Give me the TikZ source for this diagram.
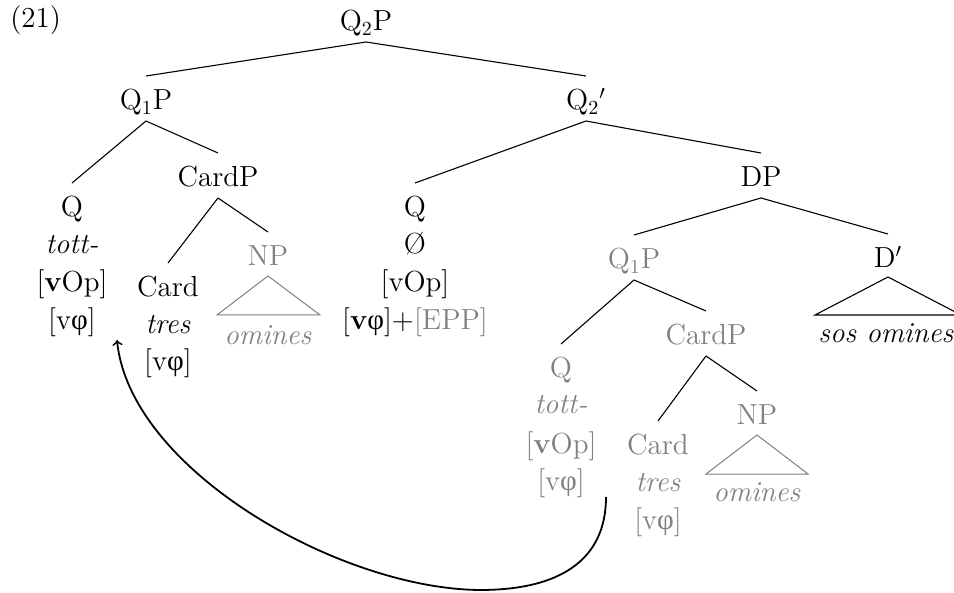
\documentclass[tikz,border=0pt]{standalone}
\usepackage{fontspec}
\newfontfamily\grk{Liberation Serif}
\newcommand{\vph}{{\grk φ}}
\usetikzlibrary{calc}
\definecolor{tgray}{gray}{0.5}
\begin{document}
\begin{tikzpicture}[x=0.5pt,y=-0.5pt,
  font=\fontsize{14.5}{17}\selectfont,
  lbl/.style={inner sep=0pt, anchor=base},
  glbl/.style={lbl, text=tgray},
  edge/.style={line width=0.55pt, black},
  gtri/.style={line width=0.5pt, draw=tgray},
  btri/.style={line width=0.55pt, draw=black},
  move/.style={line width=0.9pt, ->}]
\useasboundingbox (0,0) rectangle (954,593);

% example number
\node[lbl, anchor=base west] (ex) at (10,28) {(21)};

% top
\node[lbl] (Q2P) at (366,31) {Q$_2$P};
\node[lbl] (Q1P) at (146,110) {Q$_1$P};
\node[lbl] (Q2b) at (586,110) {Q$_2$$'$};

% left Q column
\node[lbl] (Qa) at (72,217) {Q};
\node[lbl] (Qa1) at (72,254) {\textit{tott-}};
\node[lbl] (Qa2) at (72,292) {[\textbf{v}Op]};
\node[lbl] (Qa3) at (72,330) {[v\vph]};

% CardP
\node[lbl] (CardPa) at (218,187) {CardP};
\node[lbl] (Carda) at (168,297) {Card};
\node[lbl] (Carda1) at (168,334) {\textit{tres}};
\node[lbl] (Carda2) at (168,371) {[v\vph]};
\node[glbl] (NPa) at (268,266) {NP};
\node[glbl] (omA) at (268,345) {\textit{omines}};

% middle Q column
\node[lbl] (Qb) at (415,217) {Q};
\node[lbl] (Qb1) at (415,254) {Ø};
\node[lbl] (Qb2) at (415,292) {[vOp]};
\node[lbl] (Qb3) at (415,330) {[\textbf{v}\vph]+\textcolor{tgray}{[EPP]}};

% DP
\node[lbl] (DP) at (761,187) {DP};
\node[glbl] (Q1Pg) at (634,269) {Q$_1$P};
\node[lbl] (Dbar) at (888,268) {D$'$};
\node[lbl] (sos) at (886,343) {\textit{sos omines}};

% gray Q column
\node[glbl] (Qg) at (561,378) {Q};
\node[glbl] (Qg1) at (561,414) {\textit{tott-}};
\node[glbl] (Qg2) at (561,453) {[\textbf{v}Op]};
\node[glbl] (Qg3) at (561,490) {[v\vph]};

% gray CardP
\node[glbl] (CardPg) at (706,345) {CardP};
\node[glbl] (Cardg) at (658,455) {Card};
\node[glbl] (Cardg1) at (658,492) {\textit{tres}};
\node[glbl] (Cardg2) at (658,530) {[v\vph]};
\node[glbl] (NPg) at (757,425) {NP};
\node[glbl] (omB) at (757,502) {\textit{omines}};

% edges
\foreach \p/\c in {Q2P/Q1P, Q2P/Q2b, Q1P/Qa, Q1P/CardPa, CardPa/Carda, CardPa/NPa,
                   Q2b/Qb, Q2b/DP, DP/Q1Pg, DP/Dbar, Q1Pg/Qg, Q1Pg/CardPg,
                   CardPg/Cardg, CardPg/NPg}
  \draw[edge] ($(\p.base)+(0,11)$) -- ($(\c.base)+(0,-34)$);

% triangles
\draw[gtri] ($(NPa.base)+(0,10)$) -- ($(NPa.base)+(-51,49)$) -- ($(NPa.base)+(52,49)$) -- cycle;
\draw[gtri] ($(NPg.base)+(0,10)$) -- ($(NPg.base)+(-51,49)$) -- ($(NPg.base)+(51,49)$) -- cycle;
\draw[btri] ($(Dbar.base)+(0,9)$) -- ($(Dbar.base)+(-73,47)$) -- ($(Dbar.base)+(73,47)$) -- cycle;

% movement arrow
\coordinate (mvsrc) at (606,497);
\coordinate (mvlow) at (480,590);
\coordinate (mvtgt) at (117,340);
\draw[move] (mvsrc) .. controls (606,560) and (560,590) .. (mvlow)
  .. controls (340,589) and (130,470) .. (mvtgt);
\end{tikzpicture}
\end{document}
